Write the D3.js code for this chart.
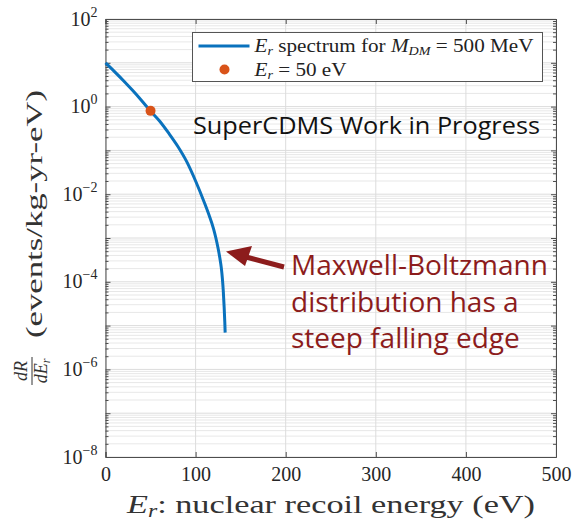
<!DOCTYPE html>
<html>
<head>
<meta charset="utf-8">
<script src="https://cdn.jsdelivr.net/npm/d3@7"></script>
<style>
  body { margin: 0; background: #fff; }
  svg { display: block; }
</style>
</head>
<body>
<script>
// recoil energy (eV) and rate (events/kg-yr-eV)
var energy = [0, 10, 20, 30, 40, 50, 60, 70, 80, 90, 100, 110, 115, 120, 122.5, 125, 127,
              128.5, 129.7, 130.7, 131.7, 132.4, 132.8];
var rate = [10, 6.3, 3.9, 2.35, 1.38, 0.79, 0.47, 0.25, 0.126, 0.056, 0.020, 0.0062, 0.0033,
            0.0016, 1.0e-3, 5.75e-4, 3.4e-4, 2.1e-4, 1.2e-4, 6.3e-5, 2.6e-5, 1.2e-5, 6.9e-6];
var markerE = [50];
var markerRate = [0.8];
var xTicks = [0, 100, 200, 300, 400, 500];
var yExps = [-8, -6, -4, -2, 0, 2];

var W = 572, H = 527;
var margin = {top: 19, right: 16, bottom: 70, left: 105.5},
    width = W - margin.left - margin.right,
    height = H - margin.top - margin.bottom;

var serif = "Liberation Serif, DejaVu Serif, serif";
var sans = "Open Sans, Noto Sans, sans-serif";
var axisCol = "#4d4d4d";
var txtCol = "#262626";

var svg = d3.select("body").append("svg")
    .attr("width", W)
    .attr("height", H);

var g = svg.append("g")
    .attr("transform", "translate(" + margin.left + "," + margin.top + ")");

var x = d3.scaleLinear().domain([0, 500]).range([0, width]);
var y = d3.scaleLog().domain([1e-8, 1e2]).range([height, 0]);

// minor grid (dotted) for every 2..9 inside each decade
var minor = [];
for (var e = -8; e < 2; e++) {
  for (var m = 2; m <= 9; m++) minor.push(m * Math.pow(10, e));
}
g.selectAll(".minor").data(minor).enter().append("line")
    .attr("x1", 0).attr("x2", width)
    .attr("y1", function(d) { return y(d); })
    .attr("y2", function(d) { return y(d); })
    .attr("stroke", "#cfcfcf")
    .attr("stroke-width", 1)
    .attr("stroke-dasharray", "1,1");

// major grid
var majorY = d3.range(-8, 3).map(function(k) { return Math.pow(10, k); });
g.selectAll(".majory").data(majorY).enter().append("line")
    .attr("x1", 0).attr("x2", width)
    .attr("y1", function(d) { return y(d); })
    .attr("y2", function(d) { return y(d); })
    .attr("stroke", "#dcdcdc");
g.selectAll(".majorx").data(xTicks).enter().append("line")
    .attr("y1", 0).attr("y2", height)
    .attr("x1", function(d) { return x(d); })
    .attr("x2", function(d) { return x(d); })
    .attr("stroke", "#dcdcdc");

// axes
var xAxis = d3.axisBottom(x).tickValues(xTicks).tickSize(-5).tickPadding(10)
    .tickFormat(d3.format("d"));
var gx = g.append("g")
    .attr("transform", "translate(0," + height + ")")
    .call(xAxis);
gx.attr("font-family", serif).attr("font-size", 20);
gx.selectAll("text").attr("fill", txtCol);

var gxTop = g.append("g").call(d3.axisTop(x).tickValues(xTicks).tickSize(-5).tickFormat(""));

var yAxis = d3.axisLeft(y).tickValues(minor.concat(majorY)).tickFormat("")
    .tickSizeInner(-3).tickSizeOuter(0);
var gy = g.append("g").call(yAxis);
gy.selectAll(".tick line").attr("x2", function(d) {
  var k = Math.log10(d);
  return Math.abs(k - Math.round(k)) < 1e-9 ? 5 : 3;
});
var gyR = g.append("g").attr("transform", "translate(" + width + ",0)")
    .call(d3.axisRight(y).tickValues(minor.concat(majorY)).tickFormat("").tickSizeInner(-3).tickSizeOuter(0));
gyR.selectAll(".tick line").attr("x2", function(d) {
  var k = Math.log10(d);
  return Math.abs(k - Math.round(k)) < 1e-9 ? -5 : -3;
});
[gx, gxTop, gy, gyR].forEach(function(a) {
  a.select(".domain").attr("stroke", axisCol);
  a.selectAll(".tick line").attr("stroke", axisCol);
});

// y tick labels with exponents
var ylab = g.selectAll(".ylab").data(yExps).enter().append("text")
    .attr("x", -8)
    .attr("y", function(d) { return y(Math.pow(10, d)) + 6.5; })
    .attr("text-anchor", "end")
    .attr("font-family", serif)
    .attr("font-size", 20)
    .attr("fill", txtCol);
ylab.append("tspan").text("10");
ylab.append("tspan").attr("dy", -9).attr("font-size", 14)
    .text(function(d) { return d < 0 ? "\u2212" + (-d) : d; });

// curve
var line = d3.line()
    .x(function(d) { return x(d[0]); })
    .y(function(d) { return y(d[1]); })
    .curve(d3.curveMonotoneX);
g.append("path")
    .datum(d3.zip(energy, rate))
    .attr("d", line)
    .attr("fill", "none")
    .attr("stroke", "#0a72bd")
    .attr("stroke-width", 3);

g.selectAll(".marker").data(d3.zip(markerE, markerRate)).enter().append("circle")
    .attr("cx", function(d) { return x(d[0]); })
    .attr("cy", function(d) { return y(d[1]); })
    .attr("r", 5)
    .attr("fill", "#d95319");

// legend
var leg = svg.append("g").attr("transform", "translate(192.5,32.5)");
leg.append("rect").attr("width", 350).attr("height", 49)
    .attr("fill", "#fff").attr("stroke", "#555").attr("stroke-width", 1);
leg.append("line").attr("x1", 6).attr("x2", 57).attr("y1", 13.5).attr("y2", 13.5)
    .attr("stroke", "#0a72bd").attr("stroke-width", 3);
leg.append("circle").attr("cx", 32).attr("cy", 37).attr("r", 5).attr("fill", "#d95319");
var t1 = leg.append("text").attr("x", 62).attr("y", 19)
    .attr("font-family", serif).attr("font-size", 18).attr("fill", "#222")
    .attr("textLength", 279).attr("lengthAdjust", "spacingAndGlyphs");
t1.append("tspan").attr("font-style", "italic").text("E");
t1.append("tspan").attr("font-style", "italic").attr("font-size", 12).attr("dy", 3).text("r");
t1.append("tspan").attr("dy", -3).text(" spectrum for ");
t1.append("tspan").attr("font-style", "italic").text("M");
t1.append("tspan").attr("font-style", "italic").attr("font-size", 12).attr("dy", 3).text("DM");
t1.append("tspan").attr("dy", -3).text(" = 500 MeV");
var t2 = leg.append("text").attr("x", 62).attr("y", 43)
    .attr("font-family", serif).attr("font-size", 18).attr("fill", "#222")
    .attr("textLength", 92).attr("lengthAdjust", "spacingAndGlyphs");
t2.append("tspan").attr("font-style", "italic").text("E");
t2.append("tspan").attr("font-style", "italic").attr("font-size", 12).attr("dy", 3).text("r");
t2.append("tspan").attr("dy", -3).text(" = 50 eV");

// watermark
svg.append("text").attr("x", 193).attr("y", 134)
    .attr("font-family", sans)
    .attr("font-size", 23).attr("fill", "#111")
    .attr("textLength", 347).attr("lengthAdjust", "spacingAndGlyphs")
    .text("SuperCDMS Work in Progress");

// annotation
var red = "#8c1c1c";
var ann = ["Maxwell-Boltzmann", "distribution has a", "steep falling edge"];
svg.selectAll(".ann").data(ann).enter().append("text")
    .attr("x", 291)
    .attr("y", function(d, i) { return 275 + i * 36.5; })
    .attr("font-family", sans)
    .attr("font-size", 28)
    .attr("fill", red)
    .text(function(d) { return d; });
svg.append("line").attr("x1", 284).attr("y1", 267).attr("x2", 246).attr("y2", 257)
    .attr("stroke", red).attr("stroke-width", 5);
svg.append("path").attr("d", "M226,251.5 L252,246 L245,266 Z").attr("fill", red);

// x label
var xl = svg.append("text").attr("x", 331).attr("y", 513)
    .attr("text-anchor", "middle")
    .attr("font-family", serif).attr("font-size", 26).attr("fill", "#333")
    .attr("textLength", 408).attr("lengthAdjust", "spacingAndGlyphs");
xl.append("tspan").attr("font-style", "italic").text("E");
xl.append("tspan").attr("font-style", "italic").attr("font-size", 18).attr("dy", 4).text("r");
xl.append("tspan").attr("dy", -4).text(": nuclear recoil energy (eV)");

// y label, rotated
var yl = svg.append("g").attr("transform", "translate(42,214) rotate(-90)");
yl.append("text").attr("x", 0).attr("y", 0)
    .attr("text-anchor", "middle")
    .attr("font-family", serif).attr("font-size", 23).attr("fill", "#333")
    .attr("textLength", 248).attr("lengthAdjust", "spacingAndGlyphs")
    .text("(events/kg-yr-eV)");
var frac = yl.append("g").attr("transform", "translate(-157,0)");
frac.append("text").attr("x", 0).attr("y", -15).attr("text-anchor", "middle")
    .attr("font-family", serif).attr("font-size", 18).attr("font-style", "italic").attr("fill", "#333")
    .text("dR");
frac.append("line").attr("x1", -14).attr("x2", 14).attr("y1", -10).attr("y2", -10)
    .attr("stroke", "#333").attr("stroke-width", 1);
var den = frac.append("text").attr("x", 0).attr("y", 5).attr("text-anchor", "middle")
    .attr("font-family", serif).attr("font-size", 18).attr("font-style", "italic").attr("fill", "#333");
den.append("tspan").text("dE");
den.append("tspan").attr("font-size", 12).attr("dy", 3).text("r");
</script>
</body>
</html>
